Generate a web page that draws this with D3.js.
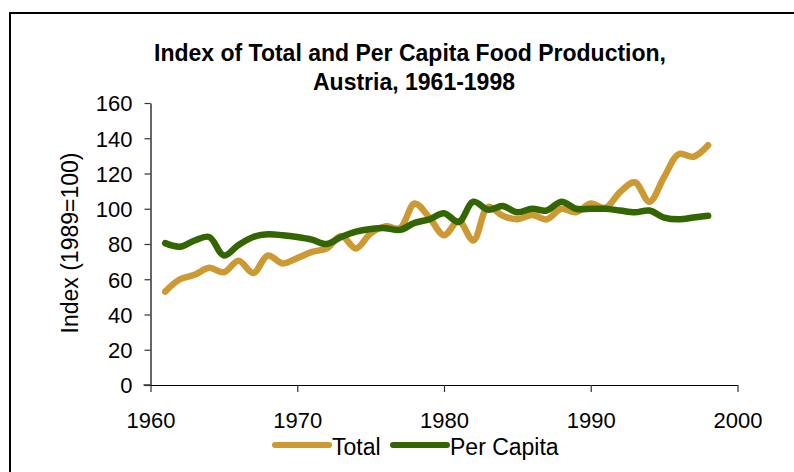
<!DOCTYPE html>
<html>
<head>
<meta charset="utf-8">
<script src="https://cdn.jsdelivr.net/npm/d3@7"></script>
<style>
  html, body { margin: 0; padding: 0; background: #fff; }
  svg { display: block; }
</style>
</head>
<body>
<div id="chart"></div>
<script>
// Index values (1989=100)
const years = d3.range(1961, 1999);
const totalIndex = [
    53, 60, 62.5, 66.5, 64, 70.5, 63.5, 73.5, 69, 72,
    75.5, 77.5, 84.5, 77.5, 86, 90, 89, 103, 95, 85,
    93, 82, 101, 96, 94, 96.5, 94, 100, 98, 103,
    100.5, 109.5, 115, 104, 118, 131, 129.5, 136
];
const perCapitaIndex = [
    80.5, 78.5, 82, 84, 73.5, 79.5, 84, 85.5, 85, 84,
    82.5, 80, 84, 87, 88.5, 89, 88, 92, 94, 97.5,
    92.5, 104, 99.5, 101.5, 98, 100, 99, 104, 100, 100,
    100, 99, 98, 99, 95, 94, 95, 96
];
const xTicks = [1960, 1970, 1980, 1990, 2000];
const yTicks = [0, 20, 40, 60, 80, 100, 120, 140, 160];
const seriesNames = ["Total", "Per Capita"];
const seriesColors = ["#cc9933", "#336600"];

const W = 794, H = 472;
const FONT = "Arial, 'Liberation Sans', sans-serif";

const svg = d3.select("#chart").append("svg")
    .attr("width", W)
    .attr("height", H);

svg.append("rect")
    .attr("width", W).attr("height", H)
    .attr("fill", "#fff");

// outer frame (runs off the right/bottom of the picture)
svg.append("rect")
    .attr("x", 10).attr("y", 13)
    .attr("width", 820).attr("height", 500)
    .attr("fill", "none")
    .attr("stroke", "#000")
    .attr("stroke-width", 2);

const x = d3.scaleLinear().domain([1960, 2000]).range([150.5, 737.5]);
const y = d3.scaleLinear().domain([0, 160]).range([385, 103]);

// title
const title = svg.append("text")
    .attr("text-anchor", "middle")
    .attr("font-family", FONT)
    .attr("font-size", "23px")
    .attr("font-weight", "700")
    .attr("fill", "#000");
title.append("tspan").attr("x", 410).attr("y", 60.5)
    .text("Index of Total and Per Capita Food Production,");
title.append("tspan").attr("x", 414).attr("y", 90)
    .text("Austria, 1961-1998");

// axes
const xAxis = svg.append("g")
    .attr("transform", `translate(0,${y(0)})`)
    .call(d3.axisBottom(x).tickValues(xTicks).tickFormat(d3.format("d")).tickSizeInner(7).tickSizeOuter(0));
const yAxis = svg.append("g")
    .attr("transform", `translate(${x(1960)},0)`)
    .call(d3.axisLeft(y).tickValues(yTicks).tickSizeInner(6).tickSizeOuter(0));

[xAxis, yAxis].forEach(a => {
    a.select(".domain").attr("stroke", "#000").attr("stroke-width", 1.2);
    a.selectAll(".tick line").attr("stroke", "#333").attr("stroke-width", 1.2);
    a.selectAll("text")
        .attr("font-family", FONT)
        .attr("font-size", "22px")
        .attr("fill", "#000");
});
xAxis.selectAll("text").attr("dy", "0").attr("y", 43);
yAxis.selectAll("text").attr("x", -18).attr("dy", "0.36em");
// x axis starts a little left of the y axis
xAxis.append("line")
    .attr("x1", x(1960) - 7).attr("x2", x(1960))
    .attr("stroke", "#000").attr("stroke-width", 1.2);

svg.append("text")
    .attr("transform", `translate(78,243) rotate(-90)`)
    .attr("text-anchor", "middle")
    .attr("font-family", FONT)
    .attr("font-size", "23px")
    .attr("fill", "#000")
    .text("Index (1989=100)");

// lines
const line = d3.line()
    .x((d, i) => x(years[i]))
    .y(d => y(d))
    .curve(d3.curveCatmullRom.alpha(0.5));

[totalIndex, perCapitaIndex].forEach((vals, k) => {
    svg.append("path")
        .datum(vals)
        .attr("d", line)
        .attr("fill", "none")
        .attr("stroke", seriesColors[k])
        .attr("stroke-width", 6.5)
        .attr("stroke-linecap", "round")
        .attr("stroke-linejoin", "round");
});

// legend
const legendX = [275, 393];
seriesNames.forEach((name, k) => {
    svg.append("line")
        .attr("x1", legendX[k]).attr("x2", legendX[k] + 54)
        .attr("y1", 445).attr("y2", 445)
        .attr("stroke", seriesColors[k])
        .attr("stroke-width", 6)
        .attr("stroke-linecap", "round");
    svg.append("text")
        .attr("x", legendX[k] + 57)
        .attr("y", 455)
        .attr("font-family", FONT)
        .attr("font-size", "23px")
        .attr("fill", "#000")
        .text(name);
});
</script>
</body>
</html>
